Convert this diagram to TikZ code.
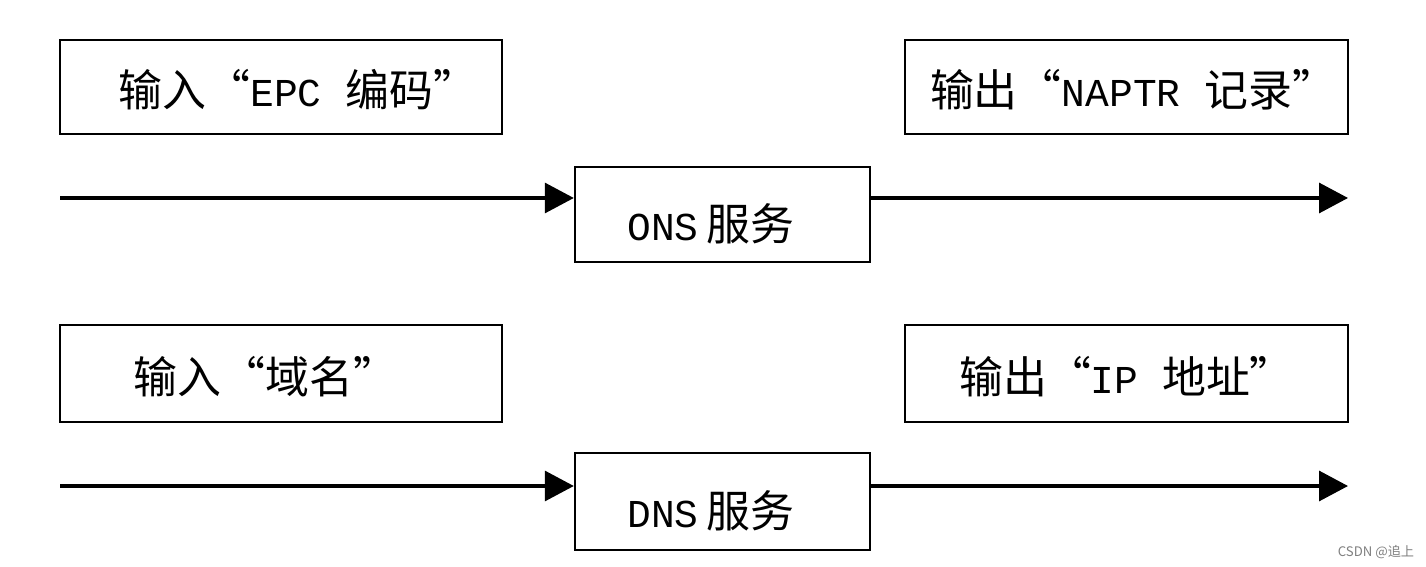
\documentclass[tikz,border=0pt]{standalone}
\usepackage{fontspec}
\setmainfont[Scale=0.9]{Liberation Mono}
\newfontfamily\cjk{Noto Sans CJK SC}
\usetikzlibrary{arrows.meta}
\newcommand{\zh}[1]{{\cjk #1}}
\begin{document}
\begin{tikzpicture}[x=0.02cm,y=-0.02cm,
  box/.style={draw=black, line width=1.4pt, rectangle, inner sep=0pt,
    font=\fontsize{25}{30}\selectfont, text depth=0pt},
  bigbox/.style={box, text height=0.8cm},
  smallbox/.style={box, text height=1.04cm},
  flow/.style={line width=1.85pt, -{Triangle[length=0.58cm,width=0.6cm]}}]
\useasboundingbox[fill=white] (0,0) rectangle (1426,567);
% top row
\node[bigbox, minimum width=8.84cm, minimum height=1.88cm] (in1) at (281,87)
  {\hspace*{0.68cm}\zh{输入“}EPC \zh{编码”}};
\node[bigbox, minimum width=8.86cm, minimum height=1.88cm] (out1) at (1126.5,87)
  {\hspace*{0.26cm}\zh{输出“}NAPTR \zh{记录”}};
\node[smallbox, minimum width=5.9cm, minimum height=1.9cm] (ons) at (722.5,214.5)
  {\hspace*{-0.46cm}ONS\hspace{0.2em}\zh{服务}};
\coordinate (s1) at (60,198);
\coordinate (e1) at (1348,198);
\draw[flow] (s1) -- (s1 -| ons.west);
\draw[flow] (ons.east |- e1) -- (e1);
% bottom row
\node[bigbox, minimum width=8.84cm, minimum height=1.94cm] (in2) at (281,373.5)
  {\hspace*{-0.62cm}\zh{输入“域名”}};
\node[bigbox, minimum width=8.86cm, minimum height=1.94cm] (out2) at (1126.5,373.5)
  {\zh{输出“}IP \zh{地址”}};
\node[smallbox, minimum width=5.9cm, minimum height=1.94cm] (dns) at (722.5,501.5)
  {\hspace*{-0.46cm}DNS\hspace{0.2em}\zh{服务}};
\coordinate (s2) at (60,486);
\coordinate (e2) at (1348,486);
\draw[flow] (s2) -- (s2 -| dns.west);
\draw[flow] (dns.east |- e2) -- (e2);
% watermark
\node[text=black!50, font=\cjk\fontsize{7.5}{9}\selectfont, inner sep=0pt] (wm) at (1376,552) {CSDN @追上};
\end{tikzpicture}
\end{document}
